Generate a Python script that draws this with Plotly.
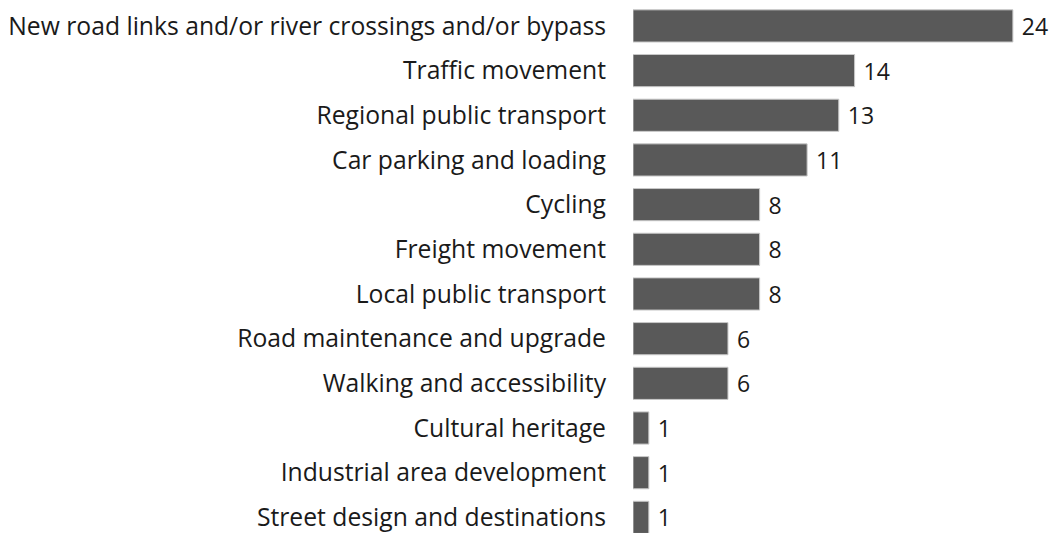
import plotly.graph_objects as go

categories = [
    "New road links and/or river crossings and/or bypass",
    "Traffic movement",
    "Regional public transport",
    "Car parking and loading",
    "Cycling",
    "Freight movement",
    "Local public transport",
    "Road maintenance and upgrade",
    "Walking and accessibility",
    "Cultural heritage",
    "Industrial area development",
    "Street design and destinations",
]
counts = [24, 14, 13, 11, 8, 8, 8, 6, 6, 1, 1, 1]

fig = go.Figure()
fig.add_trace(go.Bar(
    x=counts,
    y=categories,
    orientation='h',
    marker=dict(color='#595959', line=dict(color='#c8c8c8', width=1)),
    width=0.72,
    text=[str(v) for v in counts],
    texttemplate=' %{text}',
    textposition='outside',
    textfont=dict(size=23, color='#1a1a1a'),
    cliponaxis=False,
))

fig.update_layout(
    width=1058,
    height=533,
    paper_bgcolor='white',
    plot_bgcolor='white',
    font=dict(family='Open Sans, sans-serif', size=24, color='#1a1a1a'),
    showlegend=False,
    margin=dict(l=633, r=0, t=0, b=0),
    xaxis=dict(range=[0, 26.85], visible=False, automargin=False),
    yaxis=dict(
        type='category',
        categoryorder='array',
        categoryarray=categories,
        range=[11.35, -0.58],
        showgrid=False,
        showline=False,
        zeroline=False,
        ticks='',
        tickfont=dict(size=24.7),
        ticklabelstandoff=26,
        automargin=False,
    ),
)

# drop the default body margin so the figure fills the window exactly
fig.write_html(
    "out.html",
    config={'displayModeBar': False},
    post_script="document.body.style.margin='0';document.body.style.overflow='hidden';",
)
